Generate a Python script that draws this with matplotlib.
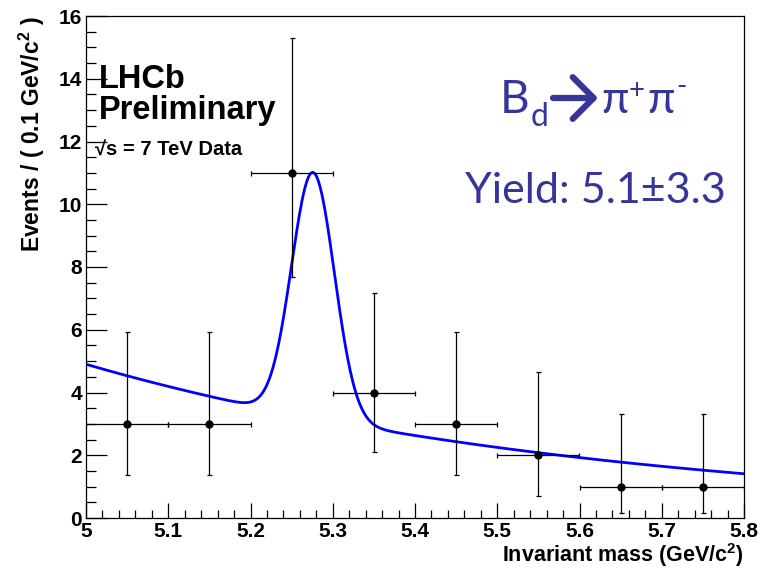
###############
### IMPORTS ###
###############

import numpy as np
import matplotlib
matplotlib.use('Agg')
import matplotlib.pyplot as plt
from matplotlib.ticker import MultipleLocator

############
### DATA ###
############

# bin centres (GeV/c^2) and events per 0.1 GeV/c^2 bin
bin_centres = [5.05, 5.15, 5.25, 5.35, 5.45, 5.55, 5.65, 5.75]
events = [3, 3, 11, 4, 3, 2, 1, 1]
# Poisson 68% interval edges
err_low_edge = [1.37, 1.37, 7.68, 2.09, 1.37, 0.71, 0.17, 0.17]
err_high_edge = [5.92, 5.92, 15.3, 7.16, 5.92, 4.64, 3.30, 3.30]
bin_width = 0.1

# fit result: exponential background + gaussian signal
bkg_at_5 = 4.9
bkg_slope = -1.557
sig_mean = 5.276
sig_sigma = 0.026
sig_yield = 5.1
sig_yield_err = 3.3

#################
### VARIABLES ###
#################

W, H = 763, 571
blue_text = '#35359a'
plt.rcParams['font.family'] = ['Liberation Sans', 'DejaVu Sans']
plt.rcParams['font.weight'] = 'bold'
plt.rcParams['mathtext.default'] = 'regular'


def px(x, y):
    # pixel position (from top-left) -> figure fraction
    return x / W, 1 - y / H


#################
### FUNCTIONS ###
#################

def fit_curve(x):
    bkg = bkg_at_5 * np.exp(bkg_slope * (x - 5.0))
    sig = sig_yield * bin_width / (sig_sigma * np.sqrt(2 * np.pi)) * \
        np.exp(-0.5 * ((x - sig_mean) / sig_sigma) ** 2)
    return bkg + sig


def build_plot():
    fig = plt.figure(figsize=(W / 100, H / 100), dpi=100)
    l, b = px(86, 518)
    r, t = px(744, 16)
    ax = fig.add_axes([l, b, r - l, t - b])

    x = np.array(bin_centres)
    y = np.array(events)
    yerr = [y - np.array(err_low_edge), np.array(err_high_edge) - y]
    ax.errorbar(x, y, xerr=bin_width / 2, yerr=yerr, fmt='o', color='black',
                ms=5, elinewidth=0.9, capsize=1.8, capthick=0.9, zorder=3)

    xs = np.linspace(5.0, 5.8, 800)
    ax.plot(xs, fit_curve(xs), color='#0000ff', lw=2.0, zorder=2)

    ax.set_xlim(5.0, 5.8)
    ax.set_ylim(0, 16)
    ax.xaxis.set_major_locator(MultipleLocator(0.1))
    ax.xaxis.set_minor_locator(MultipleLocator(0.02))
    ax.yaxis.set_major_locator(MultipleLocator(2))
    ax.yaxis.set_minor_locator(MultipleLocator(0.5))
    ax.xaxis.set_major_formatter(plt.FuncFormatter(lambda v, p: '%g' % round(v, 2)))
    ax.tick_params(which='both', direction='in', top=False, right=False,
                   labelsize=15, width=0.9)
    ax.tick_params(axis='x', which='major', length=11, pad=3)
    ax.tick_params(axis='x', which='minor', length=6)
    ax.tick_params(axis='y', which='major', length=15, pad=3)
    ax.tick_params(axis='y', which='minor', length=7.5)
    for s in ax.spines.values():
        s.set_linewidth(0.9)
    for lab in ax.get_xticklabels() + ax.get_yticklabels():
        lab.set_fontweight('bold')

    ax.set_xlabel('Invariant mass (GeV/c$^2$)', loc='right', fontsize=15.5,
                  fontweight='bold', labelpad=0)
    ax.set_ylabel('Events / ( 0.1 GeV/c$^2$ )', loc='top', fontsize=16.5,
                  fontweight='bold', labelpad=8)

    # LHCb label
    fig.text(*px(99, 88), 'LHCb', fontsize=23.5, fontweight='bold')
    fig.text(*px(99, 119), 'Preliminary', fontsize=23.5, fontweight='bold')
    fig.text(*px(95, 156), '√s = 7 TeV Data', fontsize=14.5, fontweight='bold')

    # decay channel and signal yield
    blue = dict(color=blue_text, family=['Lato', 'DejaVu Sans'],
                fontweight='normal', va='baseline', ha='left')
    fig.text(*px(500, 113), 'B', fontsize=33, **blue)
    fig.text(*px(531, 126), 'd', fontsize=23, **blue)
    ax.annotate('', xy=px(598, 98), xytext=px(553, 98),
                xycoords='figure fraction', textcoords='figure fraction',
                arrowprops=dict(arrowstyle='->,head_length=0.75,head_width=0.75',
                                lw=4.5, color=blue_text, mutation_scale=20,
                                shrinkA=0, shrinkB=0))
    fig.text(*px(601, 113), 'π', fontsize=32, **blue)
    fig.text(*px(629, 99), '+', fontsize=20, **blue)
    fig.text(*px(647, 113), 'π', fontsize=32, **blue)
    fig.text(*px(676, 95), '-', fontsize=20, **blue)
    fig.text(*px(595, 203), 'Yield: %.1f±%.1f' % (sig_yield, sig_yield_err),
             fontsize=31, **dict(blue, ha='center'))

    fig.savefig('out.png', dpi=100)


#################
### EXECUTION ###
#################

build_plot()
